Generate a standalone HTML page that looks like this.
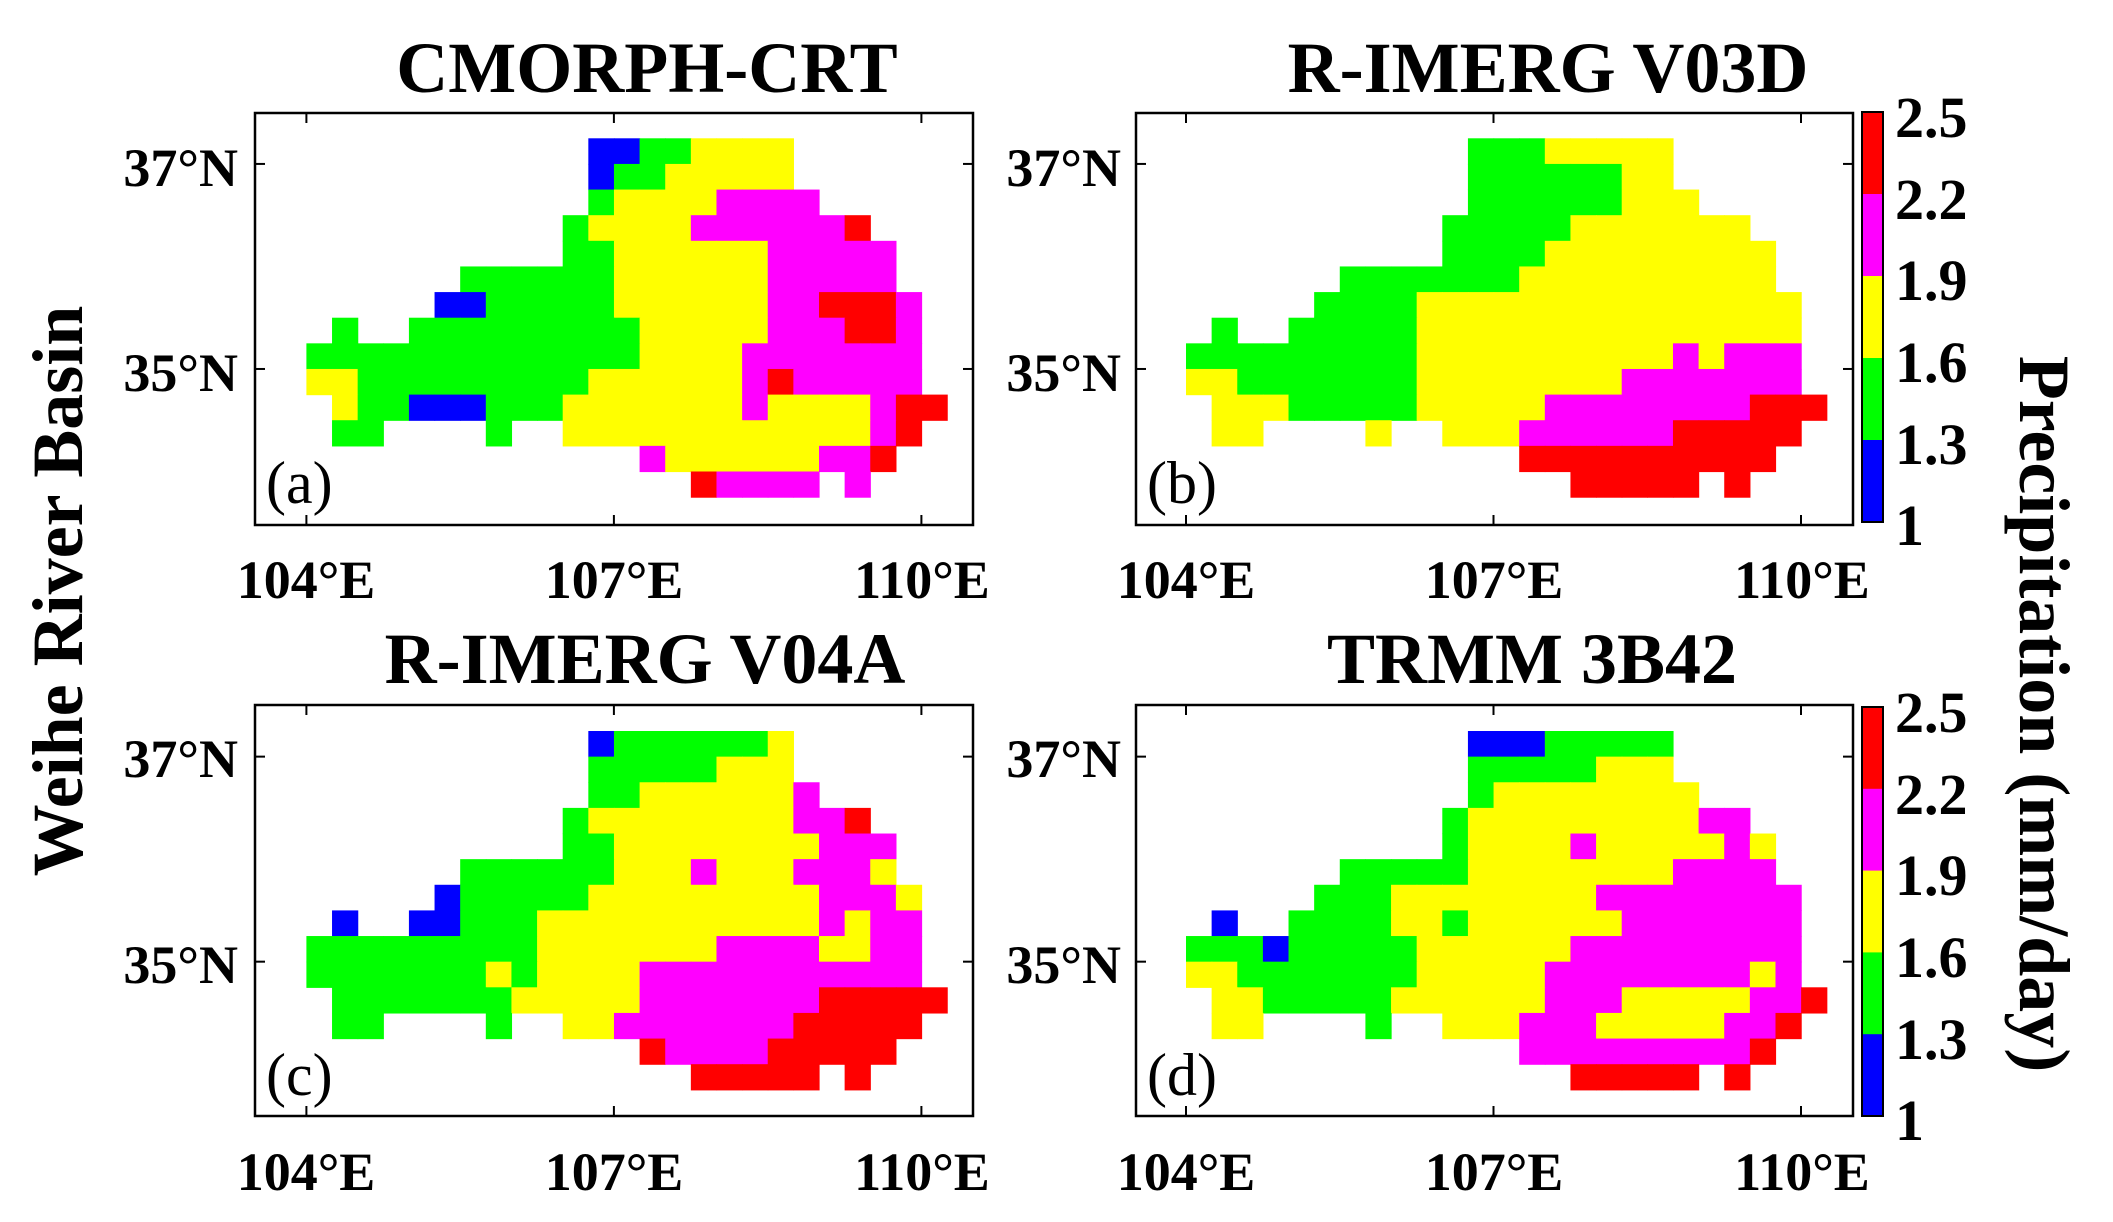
<!DOCTYPE html>
<html><head><meta charset="utf-8"><style>
html,body{margin:0;padding:0;background:#fff;}
svg{display:block;}
text{font-family:"Liberation Serif",serif;fill:#000;}
.t{font-weight:bold;font-size:72px;}
.k{font-size:54px;font-weight:bold;}
.c{font-size:58px;font-weight:bold;}
.l{font-size:60px;}
.y{font-weight:bold;font-size:72px;}
</style></head><body>
<svg id="s" width="2113" height="1222" viewBox="0 0 2113 1222" xmlns="http://www.w3.org/2000/svg">
<g id="cells"></g>
<g fill="none" stroke="#000" stroke-width="2.5">
<rect x="255" y="113" width="718" height="412"/>
<rect x="1136" y="113" width="717" height="412"/>
<rect x="255" y="705" width="718" height="411"/>
<rect x="1136" y="705" width="717" height="411"/>
</g>
<g id="ticks" stroke="#000" stroke-width="2"></g>
<text class="t" x="647" y="92" text-anchor="middle">CMORPH-CRT</text>
<text class="t" x="1548" y="92" text-anchor="middle">R-IMERG V03D</text>
<text class="t" x="645" y="683" text-anchor="middle">R-IMERG V04A</text>
<text class="t" x="1532" y="683" text-anchor="middle">TRMM 3B42</text>
<g class="k" text-anchor="middle">
<text x="306" y="598">104°E</text><text x="614" y="598">107°E</text><text x="922" y="598">110°E</text>
<text x="1186" y="598">104°E</text><text x="1494" y="598">107°E</text><text x="1802" y="598">110°E</text>
<text x="306" y="1190">104°E</text><text x="614" y="1190">107°E</text><text x="922" y="1190">110°E</text>
<text x="1186" y="1190">104°E</text><text x="1494" y="1190">107°E</text><text x="1802" y="1190">110°E</text>
</g>
<g class="k" text-anchor="end">
<text x="238" y="186">37°N</text><text x="238" y="391">35°N</text>
<text x="1121" y="186">37°N</text><text x="1121" y="391">35°N</text>
<text x="238" y="777">37°N</text><text x="238" y="983">35°N</text>
<text x="1121" y="777">37°N</text><text x="1121" y="983">35°N</text>
</g>
<g class="l">
<text x="266" y="503">(a)</text>
<text x="1147" y="503">(b)</text>
<text x="266" y="1095">(c)</text>
<text x="1147" y="1095">(d)</text>
</g>
<g id="cb"></g>
<g class="c">
<text x="1895" y="137">2.5</text><text x="1895" y="219">2.2</text><text x="1895" y="300">1.9</text>
<text x="1895" y="382">1.6</text><text x="1895" y="464">1.3</text><text x="1895" y="545">1</text>
<text x="1895" y="732">2.5</text><text x="1895" y="814">2.2</text><text x="1895" y="895">1.9</text>
<text x="1895" y="977">1.6</text><text x="1895" y="1059">1.3</text><text x="1895" y="1140">1</text>
</g>
<text class="y" transform="translate(82,591) rotate(-90)" text-anchor="middle">Weihe River Basin</text>
<text class="y" transform="translate(2020,714) rotate(90)" text-anchor="middle">Precipitation (mm/day)</text>
</svg>
<script>
var C={B:"#0000ff",G:"#00ff00",Y:"#ffff00",M:"#ff00ff",R:"#ff0000"};
var P=[
{x:306.4,y:138.3,d:[
"...........BBGGYYYY......",
"...........BGGYYYYY......",
"...........GYYYYMMMM.....",
"..........GYYYYMMMMMMR...",
"..........GGYYYYYYMMMMM..",
"......GGGGGGYYYYYYMMMMM..",
".....BBGGGGGYYYYYYMMRRRM.",
".G..GGGGGGGGGYYYYYMMMRRM.",
"GGGGGGGGGGGGGYYYYMMMMMMM.",
"YYGGGGGGGGGYYYYYYMRMMMMM.",
".YGGBBBGGGYYYYYYYMYYYYMRR",
".GG....G..YYYYYYYYYYYYMR.",
".............MYYYYYYMMR..",
"...............RMMMM.M..."]},
{x:1186,y:138.3,d:[
"...........GGGYYYYY......",
"...........GGGGGGYY......",
"...........GGGGGGYYY.....",
"..........GGGGGYYYYYYY...",
"..........GGGGYYYYYYYYY..",
"......GGGGGGGYYYYYYYYYY..",
".....GGGGYYYYYYYYYYYYYYY.",
".G..GGGGGYYYYYYYYYYYYYYY.",
"GGGGGGGGGYYYYYYYYYYMYMMM.",
"YYGGGGGGGYYYYYYYYMMMMMMM.",
".YYYGGGGGYYYYYMMMMMMMMRRR",
".YY....Y..YYYMMMMMMRRRRR.",
".............RRRRRRRRRR..",
"...............RRRRR.R..."]},
{x:306.4,y:731,d:[
"...........BGGGGGGY......",
"...........GGGGGYYY......",
"...........GGYYYYYYM.....",
"..........GYYYYYYYYMMR...",
"..........GGYYYYYYYYMMM..",
"......GGGGGGYYYMYYYMMMY..",
".....BGGGGGYYYYYYYYYMMMY.",
".B..BBGGGYYYYYYYYYYYMYMM.",
"GGGGGGGGGYYYYYYYMMMMYYMM.",
"GGGGGGGYGYYYYMMMMMMMMMMM.",
".GGGGGGGYYYYYMMMMMMMRRRRR",
".GG....G..YYMMMMMMMRRRRR.",
".............RMMMMRRRRR..",
"...............RRRRR.R..."]},
{x:1186,y:731,d:[
"...........BBBGGGGG......",
"...........GGGGGYYY......",
"...........GYYYYYYYY.....",
"..........GYYYYYYYYYMM...",
"..........GYYYYMYYYYYMY..",
"......GGGGGYYYYYYYYMMMM..",
".....GGGYYYYYYYYMMMMMMMM.",
".B..GGGGYYGYYYYYYMMMMMMM.",
"GGGBGGGGGYYYYYYMMMMMMMMM.",
"YYGGGGGGGYYYYYMMMMMMMMYM.",
".YYGGGGGYYYYYYMMMYYYYYMMR",
".YY....G..YYYMMMYYYYYMMR.",
".............MMMMMMMMMR..",
"...............RRRRR.R..."]}];
var ns="http://www.w3.org/2000/svg",g=document.getElementById("cells"),cs=25.63;
function R(p,x,y,w,h,f,st){var r=document.createElementNS(ns,"rect");r.setAttribute("x",x);r.setAttribute("y",y);r.setAttribute("width",w);r.setAttribute("height",h);r.setAttribute("fill",f);if(st){r.setAttribute("stroke","#000");r.setAttribute("stroke-width","2");}p.appendChild(r);}
P.forEach(function(p){p.d.forEach(function(row,r){for(var c=0;c<row.length;c++){var ch=row[c];if(C[ch])R(g,(p.x+c*cs).toFixed(2),(p.y+r*cs).toFixed(2),(cs+0.6).toFixed(2),(cs+0.6).toFixed(2),C[ch]);}});});
var t=document.getElementById("ticks");
function L(x1,y1,x2,y2){var l=document.createElementNS(ns,"line");l.setAttribute("x1",x1);l.setAttribute("y1",y1);l.setAttribute("x2",x2);l.setAttribute("y2",y2);t.appendChild(l);}
[[255,973,306.4,113,525,138.3],[1136,1853,1186,113,525,138.3],[255,973,306.4,705,1116,731],[1136,1853,1186,705,1116,731]].forEach(function(a){
 for(var i=0;i<3;i++){var x=a[2]+i*307.5;L(x,a[3],x,a[3]+10);L(x,a[4],x,a[4]-10);}
 [1,9].forEach(function(k){var y=a[5]+k*cs;L(a[0],y,a[0]+10,y);L(a[1],y,a[1]-10,y);});
});
var cb=document.getElementById("cb"),cols=["#ff0000","#ff00ff","#ffff00","#00ff00","#0000ff"];
[[112,522],[707,1116]].forEach(function(b){var h=(b[1]-b[0])/5;cols.forEach(function(c,i){R(cb,1862,b[0]+i*h,21,h+0.5,c);});R(cb,1862,b[0],21,b[1]-b[0],"none",1);});
</script>
</body></html>
